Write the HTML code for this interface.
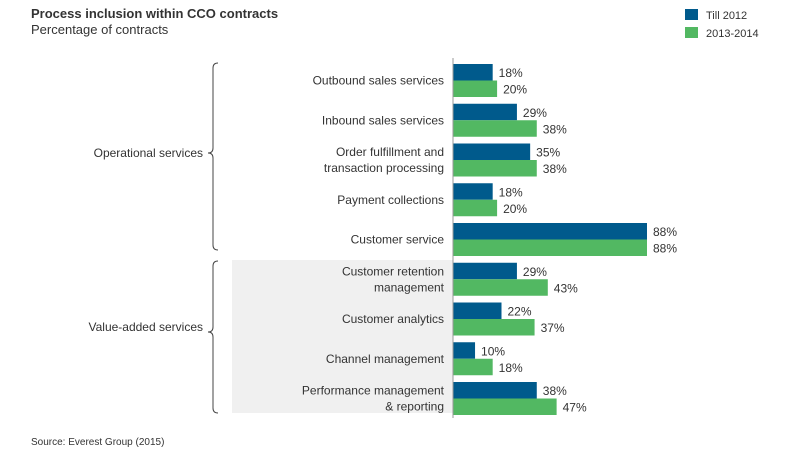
<!DOCTYPE html>
<html><head><meta charset="utf-8"><style>
body{margin:0;background:#fff;font-family:"Liberation Sans",sans-serif;}
svg text{font-family:"Liberation Sans",sans-serif;fill:#333;}
</style></head><body>
<svg id="c" width="800" height="456" xmlns="http://www.w3.org/2000/svg">
<rect x="232" y="260" width="221" height="153" fill="#f0f0f0"/>
<text x="31" y="18" font-size="13" font-weight="bold">Process inclusion within CCO contracts</text>
<text x="31" y="34" font-size="13">Percentage of contracts</text>
<rect x="685" y="9" width="13" height="11" fill="#005a8c"/>
<text x="706" y="19" font-size="11">Till 2012</text>
<rect x="685" y="27" width="13" height="11" fill="#52b862"/>
<text x="706" y="37" font-size="11">2013-2014</text>
<path d="M218,63 q-5,0 -5,5 v80 q0,5 -5,5 q5,0 5,5 v87 q0,5 5,5" fill="none" stroke="#444" stroke-width="1"/>
<text x="203" y="157" font-size="12" text-anchor="end">Operational services</text>
<path d="M218,261 q-5,0 -5,5 v61 q0,5 -5,5 q5,0 5,5 v71 q0,5 5,5" fill="none" stroke="#444" stroke-width="1"/>
<text x="203" y="331" font-size="12" text-anchor="end">Value-added services</text>
<g id="bars"></g>
<line x1="453" y1="58" x2="453" y2="418" stroke="#999" stroke-width="1"/>
<text x="31" y="445" font-size="10">Source:    Everest Group (2015)</text>
</svg>
<script>
const categories=[["Outbound sales services"],["Inbound sales services"],["Order fulfillment and","transaction processing"],["Payment collections"],["Customer service"],["Customer retention","management"],["Customer analytics"],["Channel management"],["Performance management","& reporting"]];
const till2012=[18,29,35,18,88,29,22,10,38];
const y2013_2014=[20,38,38,20,88,43,37,18,47];
const x0=453, pxPer=194/88, top0=64, pitch=39.75, bh=16.5;
const xs=v=>v*pxPer;
const g=document.getElementById('bars');
const NS='http://www.w3.org/2000/svg';
function mk(t,a){const e=document.createElementNS(NS,t);for(const k in a)e.setAttribute(k,a[k]);g.appendChild(e);return e;}
categories.forEach((c,i)=>{
  const y=top0+i*pitch;
  const b=mk('rect',{x:x0,y:y,width:xs(till2012[i]),height:bh,fill:'#005a8c'});
  
  
  const gr=mk('rect',{x:x0,y:y+bh,width:xs(y2013_2014[i]),height:bh,fill:'#52b862'});
  
  
  const t1=mk('text',{x:x0+xs(till2012[i])+6,y:y+13,'font-size':12});
  t1.textContent=till2012[i]+'%';
  
  
  const t2=mk('text',{x:x0+xs(y2013_2014[i])+6,y:y+bh+13,'font-size':12});
  t2.textContent=y2013_2014[i]+'%';
  
  
  const mid=y+bh;
  c.forEach((line,j)=>{
    const ty=mid+4+(j-(c.length-1)/2)*16;
    const t=mk('text',{x:444,y:ty,'font-size':12,'text-anchor':'end'});
    t.textContent=line;
    
    
  });
});
</script>
</body></html>
